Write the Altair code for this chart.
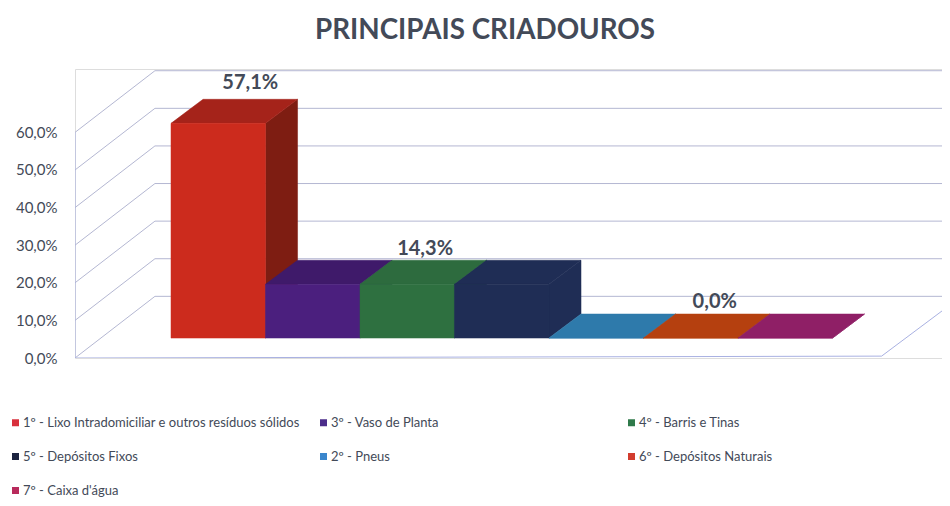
import altair as alt
import pandas as pd

# --- chart values ---
categories = ["1º - Lixo Intradomiciliar e outros resíduos sólidos", "3º - Vaso de Planta",
              "4º - Barris e Tinas", "5º - Depósitos Fixos", "2º - Pneus",
              "6º - Depósitos Naturais", "7º - Caixa d'água"]
values = [57.1, 14.3, 14.3, 14.3, 0.0, 0.0, 0.0]
value_labels = ["57,1%", "", "14,3%", "", "", "0,0%", ""]
ticks = [0, 10, 20, 30, 40, 50, 60]

# --- styles ---
legend_colors = ["#d8303c", "#4b2d8a", "#2f7a4a", "#1c2340", "#3a86cc", "#d23c2e", "#b82a5c"]
front_colors = ["#cc2b1d", "#4b1f7e", "#2e7040", "#1f2d55", "#2e7aab", "#b5400f", "#8f1f66"]
top_colors = ["#a5231a", "#3f1a6a", "#2d6b3e", "#1f2d55", "#2e7aab", "#b5400f", "#8f1f66"]
side_colors = ["#7e1d12", "#3a1760", "#27603a", "#1f2d55", "#2e7aab", "#b5400f", "#8f1f66"]
label_nudge_x = [0, 0, -0.15, 0, 0, -0.085, 0]
label_nudge_y = [0.5, 0, -0.8, 0, 0, -0.5, 0]
GRID = "#b4b7d2"
FLOOR = "#a9b1e2"
TEXT = "#434a58"
FONT = "Lato"

# --- oblique projection, in scale units (slots across, percent up) ---
X_DOMAIN = [-1.016, 8.159]
Y_DOMAIN = [0, 76.86]
BAR_BASE = 5.3        # bar floor above the front wall's 0 %
BAR_DX, BAR_DY = 0.339, 6.4   # depth of a bar
WALL_LEFT = X_DOMAIN[0]
WALL_DX, WALL_DY = 0.846, 16.4   # depth of the floor
FLOOR_RIGHT = 7.52

x_scale = alt.Scale(domain=X_DOMAIN, nice=False, zero=False)
y_scale = alt.Scale(domain=Y_DOMAIN, nice=False, zero=False)
X = alt.X("x:Q", scale=x_scale, axis=None)
Y = alt.Y("y:Q", scale=y_scale,
          axis=alt.Axis(values=ticks, title=None, domain=False, ticks=False, grid=False,
                        labelExpr="replace(format(datum.value, '.1f'), '.', ',') + '%'",
                        labelFont=FONT, labelFontSize=15, labelColor=TEXT, labelPadding=18))

# --- walls ---
rows = []
for t in ticks:
    rows += [dict(line=f"d{t}", x=WALL_LEFT, y=t, o=0),
             dict(line=f"d{t}", x=WALL_LEFT + WALL_DX, y=t + WALL_DY, o=1),
             dict(line=f"d{t}", x=FLOOR_RIGHT + WALL_DX * 2, y=t + WALL_DY, o=2)]
grid = alt.Chart(pd.DataFrame(rows)).mark_line(color=GRID, strokeWidth=1, clip=True).encode(
    x=X, y=Y, detail="line:N", order="o:Q")

floor_rows = [dict(x=WALL_LEFT, y=60, o=0), dict(x=WALL_LEFT, y=0, o=1),
              dict(x=FLOOR_RIGHT, y=0.5, o=2), dict(x=FLOOR_RIGHT + WALL_DX, y=WALL_DY, o=3)]
floor = alt.Chart(pd.DataFrame(floor_rows)).mark_line(color=FLOOR, strokeWidth=1, clip=True).encode(
    x=X, y=Y, order="o:Q")

# --- bars, painted left to right ---
fill_scale = alt.Scale(domain=categories, range=legend_colors)
legend = alt.Legend(title=None, orient="none", legendX=-66, legendY=347, columns=3,
                    direction="horizontal", gridAlign="all", columnPadding=17, rowPadding=20,
                    symbolType="square", symbolSize=49, symbolStrokeWidth=0, labelFont=FONT,
                    labelFontSize=13, labelColor=TEXT, labelLimit=400, labelOffset=1,
                    symbolOffset=0)
layers = [grid, floor]
for i, (cat, v) in enumerate(zip(categories, values)):
    side = pd.DataFrame([
        dict(x=i + 1, y=BAR_BASE, y2=BAR_BASE + v),
        dict(x=i + 1 + BAR_DX, y=BAR_BASE + BAR_DY, y2=BAR_BASE + BAR_DY + v)])
    layers.append(alt.Chart(side).mark_area(color=side_colors[i], stroke=side_colors[i],
                                            strokeWidth=0.5).encode(x=X, y=Y, y2="y2:Q"))
    top = pd.DataFrame([
        dict(x=i, x2=i + 1, y=BAR_BASE + v),
        dict(x=i + BAR_DX, x2=i + 1 + BAR_DX, y=BAR_BASE + BAR_DY + v)])
    layers.append(alt.Chart(top).mark_area(color=top_colors[i], stroke=top_colors[i],
                                           strokeWidth=0.5, orient="horizontal").encode(
        y=Y, x=X, x2="x2:Q"))
    front = pd.DataFrame([dict(x=i, x2=i + 1, y=BAR_BASE, y2=BAR_BASE + v)])
    layers.append(alt.Chart(front).mark_rect(fill=front_colors[i], stroke=front_colors[i],
                                             strokeWidth=0.5).encode(
        x=X, x2="x2:Q", y=Y, y2="y2:Q"))

# legend carrier: an invisible mark per category, driven by the fill scale
legend_df = pd.DataFrame({"cat": categories, "x": range(len(categories)), "y": [BAR_BASE] * len(categories)})
layers.append(alt.Chart(legend_df).mark_point(filled=True, size=0, opacity=0).encode(
    x=X, y=Y, fill=alt.Fill("cat:N", scale=fill_scale, legend=legend)))

# --- value labels ---
lab_df = pd.DataFrame([
    dict(text=l, x=i + 0.5 + BAR_DX + label_nudge_x[i], y=BAR_BASE + BAR_DY + v + label_nudge_y[i])
    for i, (l, v) in enumerate(zip(value_labels, values)) if l])
labels = alt.Chart(lab_df).mark_text(font=FONT, fontSize=20, fontWeight="bold", color=TEXT,
                                     baseline="bottom", dy=-4).encode(x=X, y=Y, text="text:N")
layers.append(labels)

chart = alt.layer(*layers).properties(
    width=867, height=289,
    title=alt.TitleParams("PRINCIPAIS CRIADOUROS", font=FONT, fontSize=27.8, fontWeight="bold",
                          color=TEXT, anchor="middle", dx=-23.5, offset=24),
    autosize="none",
    padding={"left": 67, "top": 61, "right": 0, "bottom": 140},
).configure_view(stroke=None).configure(background="white")

chart.save("out.html", embed_options={"renderer": "svg", "actions": False})
